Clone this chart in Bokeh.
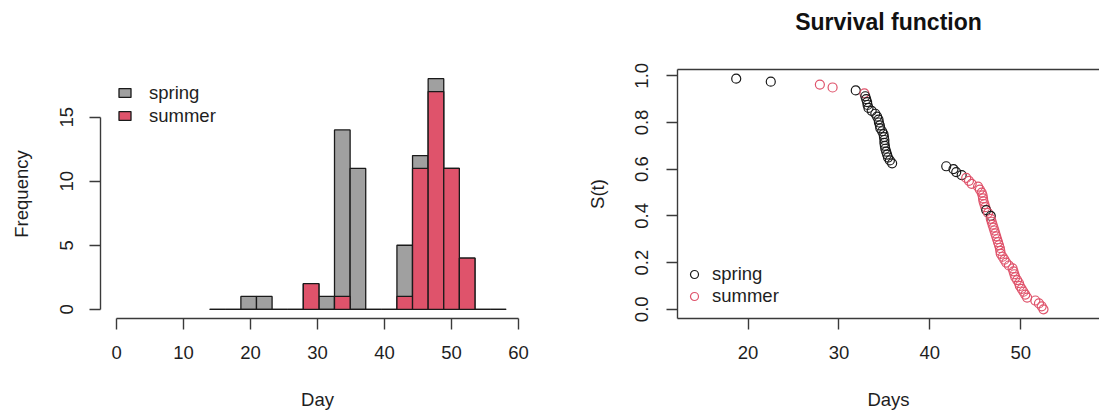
from bokeh.plotting import figure
from bokeh.layouts import row
from bokeh.models import (Range1d, FixedTicker, LinearAxis, Legend, LegendItem,
                          PrintfTickFormatter, ColumnDataSource)
from bokeh.embed import file_html
from bokeh.resources import INLINE

# ---------------- data ----------------
# histogram bin edges (Day)
breaks = [13.9, 16.23, 18.56, 20.89, 23.22, 25.55, 27.88, 30.21, 32.54, 34.87,
          37.2, 39.53, 41.86, 44.19, 46.52, 48.85, 51.18, 53.51, 55.84, 58.17]
# bar heights as drawn (grey = spring, red = summer drawn on top)
spring_freq = [0, 0, 1, 1, 0, 0, 2, 1, 14, 11, 0, 0, 5, 12, 18, 11, 4, 0, 0]
summer_freq = [0, 0, 0, 0, 0, 0, 2, 0, 1, 0, 0, 0, 1, 11, 17, 11, 4, 0, 0]
hist_x_ticks = [0, 10, 20, 30, 40, 50, 60]
hist_y_ticks = [0, 5, 10, 15]

# survival function points
spring_days = [18.7, 22.5, 31.85,
               32.9, 33.0, 33.1, 33.15, 33.25, 33.6, 34.0, 34.2, 34.35, 34.4,
               34.5, 34.55, 34.75, 34.9, 34.95, 35.0, 35.0, 35.05, 35.1, 35.2,
               35.3, 35.4, 35.6, 35.85,
               41.8, 42.6, 42.9, 43.5, 46.2, 46.7]
spring_surv = [0.9875, 0.975, 0.9375,
               0.9125, 0.9, 0.8875, 0.875, 0.8625, 0.85, 0.8375, 0.825, 0.8125,
               0.8, 0.7875, 0.775, 0.7625, 0.75, 0.7375, 0.725, 0.7125, 0.7,
               0.6875, 0.675, 0.6625, 0.65, 0.6375, 0.625,
               0.6125, 0.6, 0.5875, 0.575, 0.425, 0.4]
summer_days = [27.9, 29.3, 32.8, 44.0, 44.3, 44.6, 45.3, 45.5, 45.7, 45.8, 45.85,
               45.9, 46.0, 46.1, 46.4, 46.7, 46.8, 46.9, 47.0, 47.1, 47.2, 47.3,
               47.4, 47.5, 47.6, 47.7, 47.75, 47.8, 48.0, 48.2, 48.4, 48.7, 49.1,
               49.2, 49.3, 49.4, 49.6, 49.8, 49.9, 50.1, 50.3, 50.5, 50.7, 51.6,
               52.0, 52.3, 52.5]
summer_surv = [0.9625, 0.95, 0.925, 0.5625, 0.55, 0.5375, 0.525, 0.5125, 0.5,
               0.4875, 0.475, 0.4625, 0.45, 0.4375, 0.4125, 0.3875, 0.375, 0.3625,
               0.35, 0.3375, 0.325, 0.3125, 0.3, 0.2875, 0.275, 0.2625, 0.25,
               0.2375, 0.225, 0.2125, 0.2, 0.1875, 0.175, 0.1625, 0.15, 0.1375,
               0.125, 0.1125, 0.1, 0.0875, 0.075, 0.0625, 0.05, 0.0375, 0.025,
               0.0125, 0.0]
surv_x_ticks = [20, 30, 40, 50]
surv_y_ticks = [0.0, 0.2, 0.4, 0.6, 0.8, 1.0]

# ---------------- style ----------------
FONT = "Liberation Sans"
FS = "18.5px"
AX = "#3a3a3a"
TXT = "#1e1e1e"
GREY = "#A0A0A0"
RED = "#DF536B"


def style_axis(ax):
    ax.axis_line_color = AX
    ax.axis_line_width = 1.4
    ax.major_tick_line_color = AX
    ax.major_tick_line_width = 1.4
    ax.major_tick_out = 11
    ax.major_tick_in = 0
    ax.minor_tick_line_color = None
    ax.major_label_text_font = FONT
    ax.major_label_text_font_size = FS
    ax.major_label_text_color = TXT
    ax.axis_label_text_font = FONT
    ax.axis_label_text_font_size = FS
    ax.axis_label_text_font_style = "normal"
    ax.axis_label_text_color = TXT


# ---------------- left: histogram ----------------
p1 = figure(width=549, height=412, output_backend="svg", toolbar_location=None,
            x_range=Range1d(-2.4, 62.4), y_range=Range1d(-0.72, 18.72),
            min_border_left=100, min_border_right=15, min_border_top=69,
            min_border_bottom=94, x_axis_label="Day", y_axis_label="Frequency")
p1.outline_line_color = None
p1.grid.grid_line_color = None
p1.background_fill_color = "white"
p1.border_fill_color = "white"

r_spring = p1.quad(left=breaks[:-1], right=breaks[1:], bottom=0, top=spring_freq,
                   fill_color=GREY, line_color="#1a1a1a", line_width=1.3)
r_summer = p1.quad(left=breaks[:-1], right=breaks[1:], bottom=0, top=summer_freq,
                   fill_color=RED, line_color="#1a1a1a", line_width=1.3)

for ax in p1.xaxis:
    style_axis(ax)
    ax.ticker = FixedTicker(ticks=hist_x_ticks)
    ax.bounds = (hist_x_ticks[0], hist_x_ticks[-1])
    ax.major_label_standoff = 16
    ax.axis_label_standoff = 27
for ax in p1.yaxis:
    style_axis(ax)
    ax.ticker = FixedTicker(ticks=hist_y_ticks)
    ax.bounds = (hist_y_ticks[0], hist_y_ticks[-1])
    ax.major_label_orientation = "vertical"
    ax.major_label_standoff = 16
    ax.axis_label_standoff = 26

leg1 = Legend(items=[LegendItem(label="spring", renderers=[r_spring]),
                     LegendItem(label="summer", renderers=[r_summer])],
              location=(17, 191), orientation="vertical",
              glyph_width=15, glyph_height=11, label_standoff=17,
              label_height=23, spacing=0, padding=0, margin=0,
              label_text_font=FONT, label_text_font_size=FS,
              label_text_color=TXT, border_line_color=None,
              background_fill_alpha=0)
p1.add_layout(leg1)

# ---------------- right: survival ----------------
p2 = figure(width=550, height=412, output_backend="svg", toolbar_location=None,
            x_range=Range1d(12.24, 58.66), y_range=Range1d(-0.0395, 1.027),
            min_border_left=128, min_border_right=0, min_border_top=68,
            min_border_bottom=94, x_axis_label="Days", y_axis_label="S(t)")
p2.outline_line_color = None
p2.grid.grid_line_color = None
p2.background_fill_color = "white"
p2.border_fill_color = "white"

days_all = list(spring_days) + list(summer_days)
surv_all = list(spring_surv) + list(summer_surv)
col_all = ["#1a1a1a"] * len(spring_days) + [RED] * len(summer_days)
order = sorted(range(len(days_all)), key=lambda i: (days_all[i], -surv_all[i]))
src = ColumnDataSource(dict(x=[days_all[i] for i in order],
                            y=[surv_all[i] for i in order],
                            c=[col_all[i] for i in order]))
r_pts = p2.scatter("x", "y", source=src, marker="circle", size=9,
                   fill_color=None, line_color="c", line_width=1.2)
idx_spring = [k for k, i in enumerate(order) if i < len(spring_days)][0]
idx_summer = [k for k, i in enumerate(order) if i >= len(spring_days)][0]

for ax in p2.xaxis:
    style_axis(ax)
    ax.ticker = FixedTicker(ticks=surv_x_ticks)
    ax.major_label_standoff = 16
    ax.axis_label_standoff = 27
for ax in p2.yaxis:
    style_axis(ax)
    ax.ticker = FixedTicker(ticks=surv_y_ticks)
    ax.formatter = PrintfTickFormatter(format="%.1f")
    ax.major_label_orientation = "vertical"
    ax.major_label_standoff = 18
    ax.axis_label_standoff = 25

# top box line, carrying the panel title as its label
top_ax = LinearAxis(ticker=FixedTicker(ticks=[]), axis_line_color=AX,
                    axis_line_width=1.4, major_tick_out=0, major_tick_in=0,
                    minor_tick_line_color=None, major_label_text_font_size="0px",
                    major_label_standoff=0,
                    axis_label="Survival function", axis_label_text_font=FONT,
                    axis_label_text_font_size="23px",
                    axis_label_text_font_style="bold",
                    axis_label_text_color="#111111",
                    axis_label_standoff=35)
p2.add_layout(top_ax, "above")

leg2 = Legend(items=[LegendItem(label="spring", renderers=[r_pts], index=idx_spring),
                     LegendItem(label="summer", renderers=[r_pts], index=idx_summer)],
              location=(7, 11), orientation="vertical",
              glyph_width=20, glyph_height=20, label_standoff=8,
              label_height=20, spacing=0, padding=0, margin=0,
              label_text_font=FONT, label_text_font_size=FS,
              label_text_color=TXT, border_line_color=None,
              background_fill_alpha=0)
p2.add_layout(leg2)

layout = row(p1, p2)
open("out.html", "w").write(file_html(layout, INLINE))
